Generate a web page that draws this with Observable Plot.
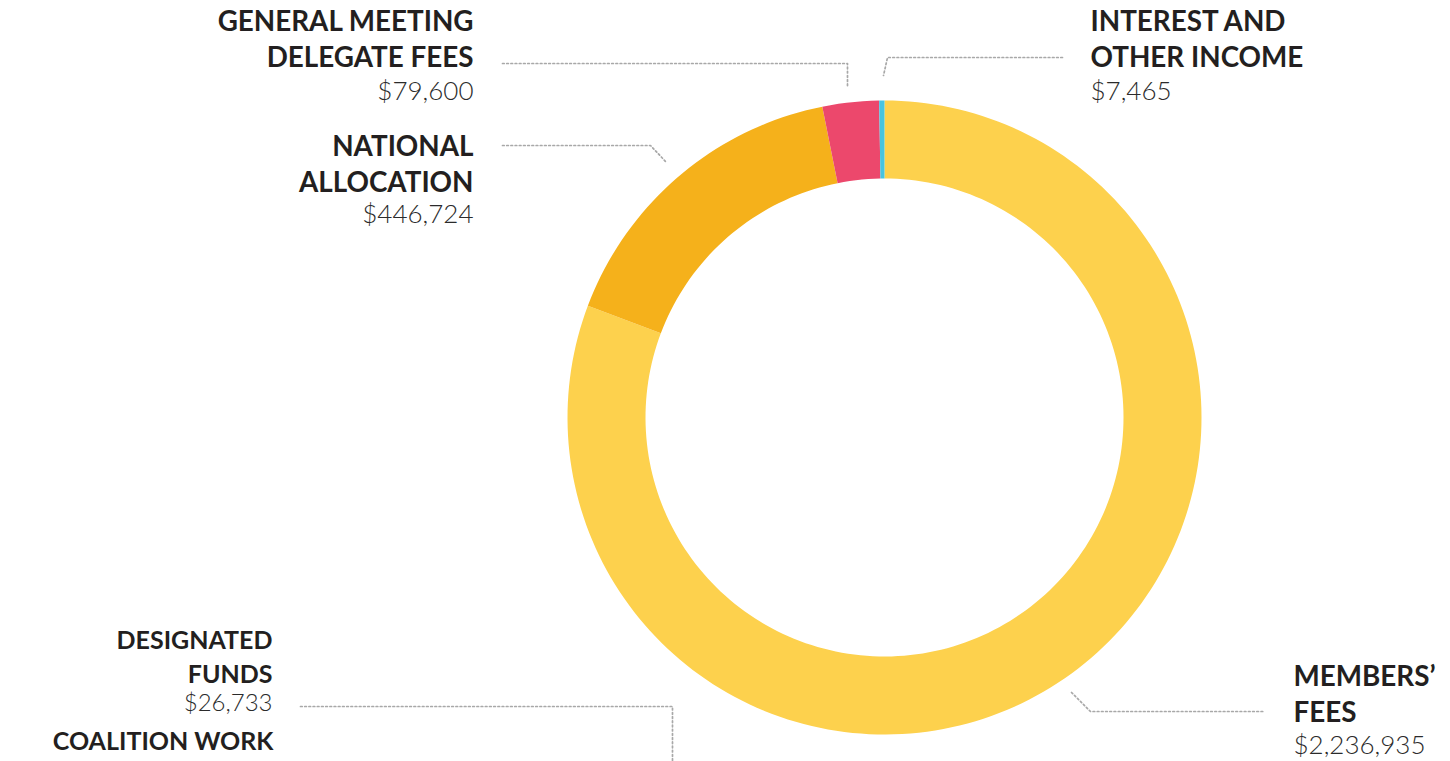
<!DOCTYPE html>
<html><head><meta charset="utf-8">
<script src="https://cdn.jsdelivr.net/npm/d3@7"></script>
<script src="https://cdn.jsdelivr.net/npm/@observablehq/plot@0.6"></script>
<style>html,body{margin:0;padding:0;background:#fff;overflow:hidden}#chart svg{display:block}</style>
</head><body><div id="chart"></div>
<script>
// ---- data ----
const categories = ["Members’ fees", "National allocation", "General meeting delegate fees", "Interest and other income"];
const values = [2236935, 446724, 79600, 7465];
const colors = ["#FDD14D", "#F5B11B", "#EC486C", "#47C4E0"];
const labelTitles = ["MEMBERS’\nFEES", "NATIONAL\nALLOCATION", "GENERAL MEETING\nDELEGATE FEES", "INTEREST AND\nOTHER INCOME"];
const otherTitles = ["DESIGNATED\nFUNDS", "COALITION WORK"];
const otherValues = [26733, null];

// ---- layout (pixels) ----
const W = 1450, H = 761, CX = 884, CY = 417, R_OUT = 317, R_IN = 239;
const labelLayout = [
  {anchor: "start", x: 1293, titleY: 721, valueY: 753, leader: [[1071, 692], [1090, 711], [1263, 711]]},
  {anchor: "end", x: 473, titleY: 191, valueY: 222, leader: [[502, 145], [650, 145], [666, 162]]},
  {anchor: "end", x: 473, titleY: 66, valueY: 99, leader: [[502, 63], [847, 63], [847, 87]]},
  {anchor: "start", x: 1090, titleY: 66, valueY: 99, leader: [[1062, 57], [887, 57], [883, 75]]}
];
const otherLayout = [
  {anchor: "end", x: 272, titleY: 682, valueY: 710, leader: [[300, 706], [672, 706], [672, 761]]},
  {anchor: "end", x: 273, titleY: 749, valueY: 782, leader: null}
];

const ux = px => (px - CX) / R_OUT;
const uy = py => (py - CY) / R_OUT;
const fmt = d3.format("$,");

// slices from d3.pie (angles), polygon points in unit coords
const pie = d3.pie().sort(null).value(d => d.value)(categories.map((c, i) => ({name: c, value: values[i]})));
const slicePts = [];
const N = 240;
for (const a of pie) {
  const n = Math.max(4, Math.ceil(N * (a.endAngle - a.startAngle) / (2 * Math.PI)));
  for (let k = 0; k <= n; k++) {
    const t = a.startAngle + (a.endAngle - a.startAngle) * k / n;
    slicePts.push({name: a.data.name, x: Math.sin(t), y: -Math.cos(t)});
  }
  for (let k = n; k >= 0; k--) {
    const t = a.startAngle + (a.endAngle - a.startAngle) * k / n;
    const r = R_IN / R_OUT;
    slicePts.push({name: a.data.name, x: r * Math.sin(t), y: -r * Math.cos(t)});
  }
}

const leaders = [];
[...labelLayout, ...otherLayout].forEach((l, i) => {
  if (l.leader) l.leader.forEach(([px, py]) => leaders.push({id: i, x: ux(px), y: uy(py)}));
});

const mainLabels = categories.map((c, i) => ({
  title: labelTitles[i], value: fmt(values[i]), anchor: labelLayout[i].anchor,
  x: ux(labelLayout[i].x), ty: uy(labelLayout[i].titleY), vy: uy(labelLayout[i].valueY)
}));
const others = otherTitles.map((t, i) => ({
  title: t, value: otherValues[i] == null ? "" : fmt(otherValues[i]), anchor: otherLayout[i].anchor,
  x: ux(otherLayout[i].x), ty: uy(otherLayout[i].titleY), vy: uy(otherLayout[i].valueY)
}));

const TITLE_FONT = "Lato, 'Open Sans', sans-serif";
const titleOpts = (anchor, size, lh) => ({
  x: "x", y: "ty", text: "title", textAnchor: anchor, lineAnchor: "bottom",
  fontFamily: TITLE_FONT, fontWeight: 700, fontSize: size, lineHeight: lh, fill: "#231f20"
});
const valueOpts = (anchor, size) => ({
  x: "x", y: "vy", text: "value", textAnchor: anchor, lineAnchor: "bottom",
  fontFamily: TITLE_FONT, fontWeight: 300, fontSize: size, fill: "#2b2b2b"
});

const chart = Plot.plot({
  width: W, height: H,
  margin: 0,
  x: {domain: [ux(0), ux(W)], range: [0, W], axis: null},
  y: {domain: [uy(0), uy(H)], range: [0, H], axis: null},
  color: {type: "ordinal", domain: categories, range: colors},
  style: {background: "#fff", overflow: "hidden"},
  marks: [
    Plot.line(slicePts, {x: "x", y: "y", z: "name", fill: "name", stroke: null, curve: "linear"}),
    Plot.line(leaders, {x: "x", y: "y", z: "id", stroke: "#a8a8a8", strokeWidth: 1.7, strokeDasharray: "1.7,2.5", curve: "linear"}),
    Plot.text(mainLabels.filter(d => d.anchor === "end"), titleOpts("end", 27.8, 1.27)),
    Plot.text(mainLabels.filter(d => d.anchor === "start"), titleOpts("start", 27.8, 1.27)),
    Plot.text(mainLabels.filter(d => d.anchor === "end"), valueOpts("end", 26)),
    Plot.text(mainLabels.filter(d => d.anchor === "start"), valueOpts("start", 26)),
    Plot.text(others, titleOpts("end", 25, 1.33)),
    Plot.text(others, valueOpts("end", 24))
  ]
});
document.getElementById("chart").appendChild(chart);
</script>
</body></html>
